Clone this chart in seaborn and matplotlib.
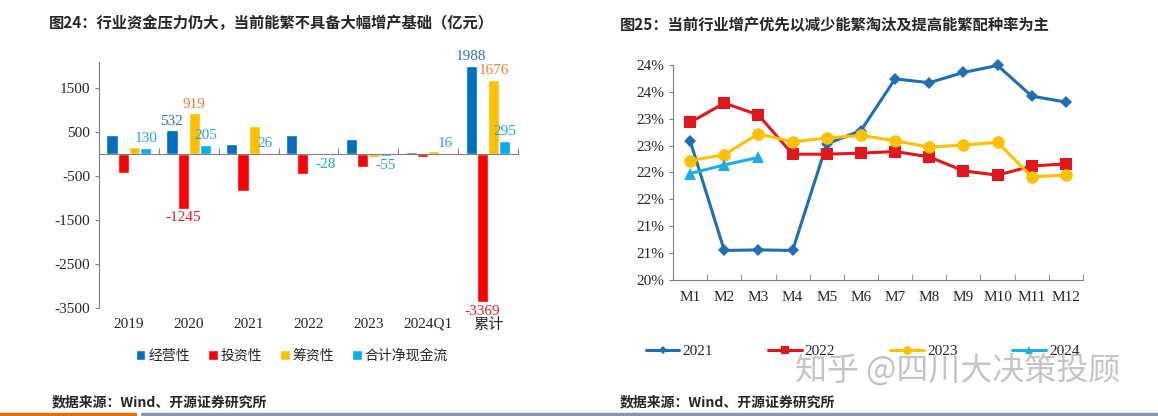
import numpy as np
import pandas as pd
import seaborn as sns
import matplotlib.pyplot as plt
from matplotlib.lines import Line2D

# ---- 图24 data (亿元) ----
years = ['2019', '2020', '2021', '2022', '2023', '2024Q1', '累计']
flow_types = ['经营性', '投资性', '筹资性', '合计净现金流']
operating = [417, 532, 220, 433, 327, 35, 1988]
investing = [-433, -1245, -835, -462, -305, -75, -3369]
financing = [147, 919, 641, 1, -77, 56, 1676]
net_flow = [130, 205, 26, -28, -55, 16, 295]
# which bars carry a value label
labeled = {
    '经营性': [0, 1, 0, 0, 0, 0, 1],
    '投资性': [0, 1, 0, 0, 0, 0, 1],
    '筹资性': [0, 1, 0, 0, 0, 0, 1],
    '合计净现金流': [1, 1, 1, 1, 1, 1, 1],
}
bar_colors = ['#0070C0', '#FF0000', '#FFC000', '#00B0F0']
label_colors = ['#2E75B6', '#E02020', '#ED7D31', '#1FA8DC']
left_yticks = [-3500, -2500, -1500, -500, 500, 1500]

# ---- 图25 data (%) ----
months = ['M1', 'M2', 'M3', 'M4', 'M5', 'M6', 'M7', 'M8', 'M9', 'M10', 'M11', 'M12']
rate_2021 = [22.59, 20.55, 20.56, 20.55, 22.53, 22.78, 23.74, 23.67, 23.86, 23.99, 23.42, 23.31]
rate_2022 = [22.93, 23.29, 23.07, 22.34, 22.34, 22.36, 22.39, 22.29, 22.03, 21.95, 22.12, 22.16]
rate_2023 = [22.22, 22.33, 22.72, 22.57, 22.64, 22.69, 22.59, 22.47, 22.51, 22.56, 21.92, 21.95]
rate_2024 = [21.98, 22.14, 22.28]
right_yticks = [20, 20.5, 21, 21.5, 22, 22.5, 23, 23.5, 24]
right_yticklabels = ['20%', '21%', '21%', '22%', '22%', '23%', '23%', '24%', '24%']

sns.set_style('white')
plt.rcParams['font.family'] = ['Liberation Serif', 'Noto Sans CJK SC', 'DejaVu Sans']
plt.rcParams['axes.unicode_minus'] = False

fig = plt.figure(figsize=(11.58, 4.16), dpi=100)
axL = fig.add_axes([0.0855, 0.2596, 0.3618, 0.591])
axR = fig.add_axes([0.5812, 0.3269, 0.354, 0.517])

# ---------- left: grouped bars ----------
flows = pd.DataFrame({'year': years * 4,
                      'type': np.repeat(flow_types, len(years)),
                      'value': operating + investing + financing + net_flow})
sns.barplot(data=flows, x='year', y='value', hue='type', hue_order=flow_types,
            palette=bar_colors, width=0.75, saturation=1, ax=axL, legend=True)

for cont, ftype, lc in zip(axL.containers, flow_types, label_colors):
    vals = flows.loc[flows['type'] == ftype, 'value'].tolist()
    labs = [f'{v:g}' if show else '' for v, show in zip(vals, labeled[ftype])]
    axL.bar_label(cont, labels=labs, color=lc, fontsize=11, padding=2)

axL.set_ylim(-3500, 2080)
axL.set_xlim(-0.5, len(years) - 0.5)
axL.set_yticks(left_yticks)
axL.set_xlabel('')
axL.set_ylabel('')
axL.tick_params(axis='y', labelsize=11, length=3, color='#808080', direction='out', left=True)
for s in ['top', 'right']:
    axL.spines[s].set_visible(False)
axL.spines['left'].set_color('#808080')
axL.spines['bottom'].set_position(('data', 0))
axL.spines['bottom'].set_color('#808080')
axL.set_xticks(np.arange(len(years) + 1) - 0.5)
axL.set_xticklabels([])
axL.tick_params(axis='x', direction='in', length=4, color='#808080', bottom=True)
sec = axL.secondary_xaxis('bottom')
sec.set_xticks(np.arange(len(years)))
sec.set_xticklabels(years, fontsize=11)
sec.tick_params(length=0, pad=7)
sec.spines['bottom'].set_visible(False)

handles, labels = axL.get_legend_handles_labels()
axL.legend(handles, labels, loc='center', bbox_to_anchor=(0.252, 0.145),
           bbox_transform=fig.transFigure, ncol=4, frameon=False,
           handlelength=0.7, handleheight=0.7, handletextpad=0.2,
           columnspacing=1.3, prop={'family': 'Noto Sans CJK SC', 'size': 10})

# ---------- right: lines ----------
month_no = np.arange(1, len(months) + 1)
series = [('2021', rate_2021, '#1F6FB5', 'D', 6),
          ('2022', rate_2022, '#E3161B', 's', 9),
          ('2023', rate_2023, '#FFC000', 'o', 9),
          ('2024', rate_2024, '#1DAEE8', '^', 8)]
for name, vals, col, mk, ms in series:
    sns.lineplot(x=month_no[:len(vals)], y=vals, color=col, marker=mk, markersize=ms,
                 markeredgewidth=0, linewidth=2.2, label=name, clip_on=False, ax=axR)

axR.set_xlim(0.5, len(months) + 0.5)
axR.set_ylim(20, 24)
axR.set_yticks(right_yticks)
axR.set_yticklabels(right_yticklabels)
axR.set_xticks(month_no)
axR.set_xticklabels(months)
axR.set_xticks(np.arange(len(months) + 1) + 0.5, minor=True)
axR.tick_params(axis='x', which='major', length=0, labelsize=11, pad=8)
axR.tick_params(axis='x', which='minor', direction='in', length=4, color='#808080', bottom=True)
axR.tick_params(axis='y', labelsize=11, length=3, color='#808080', direction='out', left=True)
for s in ['top', 'right']:
    axR.spines[s].set_visible(False)
axR.spines['left'].set_color('#808080')
axR.spines['bottom'].set_color('#808080')
axR.legend(loc='center', bbox_to_anchor=(0.745, 0.155), bbox_transform=fig.transFigure,
           ncol=4, frameon=False, handlelength=2.2, handletextpad=0.2, markerscale=0.7,
           columnspacing=3.6, fontsize=11)

# ---------- titles, sources, decoration ----------
fig.text(0.042, 0.945, '图24：行业资金压力仍大，当前能繁不具备大幅增产基础（亿元）',
         fontsize=11, fontweight='bold', family=['Noto Sans CJK SC'], va='center')
fig.text(0.535, 0.94, '图25：当前行业增产优先以减少能繁淘汰及提高能繁配种率为主',
         fontsize=11, fontweight='bold', family=['Noto Sans CJK SC'], va='center')
fig.text(0.045, 0.032, '数据来源：Wind、开源证券研究所', fontsize=10, fontweight='bold',
         family=['Noto Sans CJK SC'], va='center')
fig.text(0.535, 0.032, '数据来源：Wind、开源证券研究所', fontsize=10, fontweight='bold',
         family=['Noto Sans CJK SC'], va='center')
fig.text(0.827, 0.11, '知乎 @四川大决策投顾', fontsize=23, color='#B0B0B0', alpha=0.75,
         family=['Noto Sans CJK SC'], ha='center', va='center')
fig.add_artist(Line2D([0, 0.117], [0.006, 0.006], color='#E46C0A', lw=2.5))
fig.add_artist(Line2D([0.123, 1], [0.006, 0.006], color='#8497B0', lw=2.5))

fig.savefig('out.png', dpi=100)
